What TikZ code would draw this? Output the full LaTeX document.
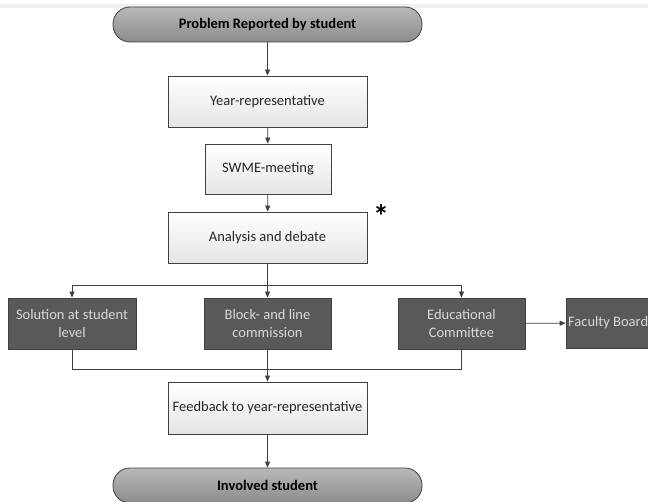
\documentclass[tikz,border=0pt]{standalone}
\usepackage{fontspec}
\setmainfont{Carlito}
\usetikzlibrary{arrows.meta}
\definecolor{lineC}{HTML}{404040}
\definecolor{termC}{HTML}{A6A6A6}
\definecolor{termD}{HTML}{8C8C8C}
\definecolor{darkC}{HTML}{595959}
\definecolor{darkT}{HTML}{D9D9D9}
\tikzset{
  base/.style={draw=lineC, line width=0.8pt, inner sep=2pt, align=center, font=\fontsize{14.5}{17.5}\selectfont},
  term/.style={base, rounded corners=17pt, top color=termC!80!white, bottom color=termD, font=\fontsize{14.5}{17.5}\selectfont\bfseries, text=black, minimum width=309pt, minimum height=35pt},
  lightbox/.style={base, top color=white, bottom color=black!10, text=black!85, minimum height=51pt},
  darkbox/.style={base, fill=darkC, text=darkT, minimum height=51pt, minimum width=127pt},
  conn/.style={draw=lineC, line width=0.8pt},
  arr/.style={conn, -{Triangle[length=6pt,width=5pt]}}
}
\begin{document}
\begin{tikzpicture}[x=1pt,y=-1pt]
\useasboundingbox (0,0) rectangle (648,502);
\fill[black!6] (0,0) rectangle (648,8);
\fill[white] (0,0) rectangle (648,4);
\node[term] (top) at (267.5,24.5) {Problem Reported by student};
\node[lightbox, minimum width=199pt] (yr) at (267.5,101.5) {Year-representative};
\node[lightbox, minimum width=126pt, minimum height=50pt] (swme) at (268,169) {SWME-meeting};
\node[lightbox, minimum width=199pt] (ana) at (267.5,237.5) {Analysis and debate};
\node[font=\fontsize{32}{32}\selectfont\bfseries] (ast) at (381,216) {*};
\node[darkbox, minimum width=128pt] (sol) at (72,323.5) {Solution at student\\level};
\node[darkbox] (blk) at (267.5,323.5) {Block- and line\\commission};
\node[darkbox] (edu) at (461.5,323.5) {Educational\\Committee};
\node[base, fill=darkC, text=darkT, minimum width=94pt, minimum height=50pt] (fac) at (613,323) {};
\node[anchor=west, text=darkT, font=\fontsize{14.5}{17.5}\selectfont, inner sep=0pt] (factxt) at (568,323) {Faculty Board};
\node[lightbox, minimum width=199pt, minimum height=52pt] (fb) at (267.5,408) {Feedback to year-representative};
\node[term] (inv) at (267.5,485.5) {Involved student};
\coordinate (split) at (267.5,285.5);
\coordinate (merge) at (267.5,369);
\draw[arr] (top) -- (yr);
\draw[arr] (yr) -- (swme);
\draw[arr] (swme) -- (ana);
\draw[arr] (ana) -- (blk);
\draw[arr] (split) -| (sol);
\draw[arr] (split) -| (edu);
\draw[conn] (sol.south) |- (merge);
\draw[conn] (edu.south) |- (merge);
\draw[arr] (blk) -- (fb);
\draw[arr] (edu) -- (fac);
\draw[arr] (fb) -- (inv);
\end{tikzpicture}
\end{document}
